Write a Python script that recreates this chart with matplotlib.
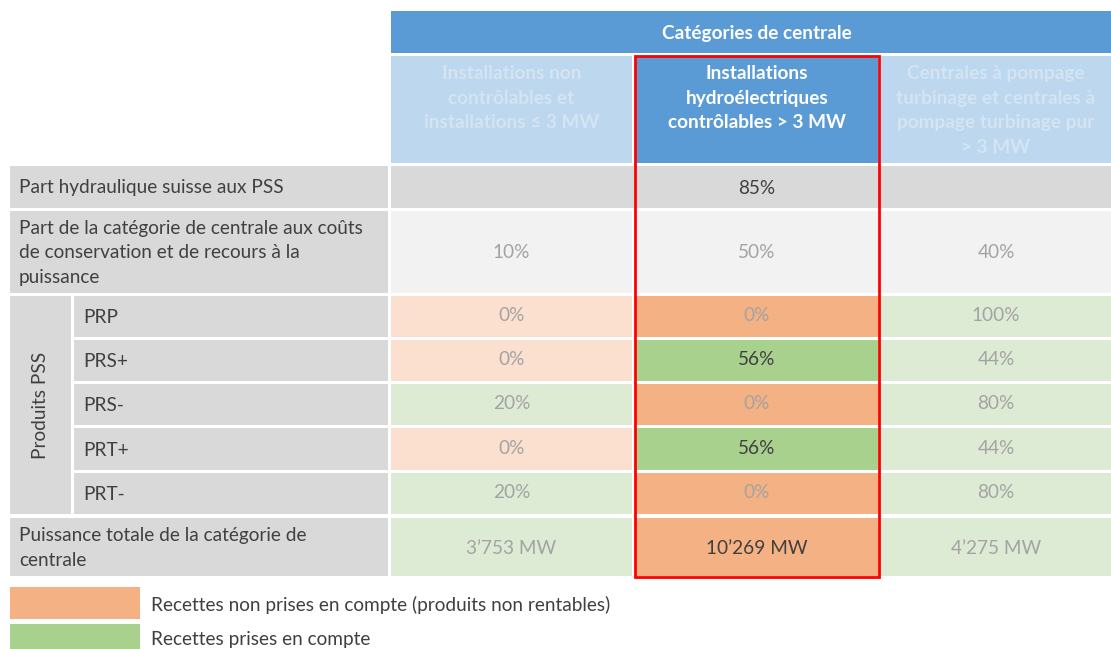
import matplotlib.pyplot as plt
from matplotlib.patches import Rectangle

plt.rcParams["font.family"] = ["Lato", "DejaVu Sans"]

# data
header = "Catégories de centrale"
categories = [
    "Installations non\ncontrôlables et\ninstallations ≤ 3 MW",
    "Installations\nhydroélectriques\ncontrôlables > 3 MW",
    "Centrales à pompage\nturbinage et centrales à\npompage turbinage pur\n> 3 MW",
]
row_share_label = "Part hydraulique suisse aux PSS"
hydro_share = 85
row_cost_label = "Part de la catégorie de centrale aux coûts\nde conservation et de recours à la\npuissance"
cost_share = [10, 50, 40]
group_label = "Produits PSS"
products = ["PRP", "PRS+", "PRS-", "PRT+", "PRT-"]
product_share = [
    [0, 0, 100],
    [0, 56, 44],
    [20, 0, 80],
    [0, 56, 44],
    [20, 0, 80],
]
# True = revenue counted (green), False = not counted (orange)
product_counted = [
    [False, False, True],
    [False, True, True],
    [True, False, True],
    [False, True, True],
    [True, False, True],
]
row_total_label = "Puissance totale de la catégorie de\ncentrale"
total_mw = [3753, 10269, 4275]
total_counted = [True, False, True]
legend_labels = ["Recettes non prises en compte (produits non rentables)",
                 "Recettes prises en compte"]
focus = 1

# styles
BLUE = "#5B9BD5"
LBLUE = "#BDD7EE"
GRAY = "#D9D9D9"
LGRAY = "#F2F2F2"
ORANGE = "#F4B183"
GREEN = "#A9D18E"
FORANGE = "#FBE0CF"
FGREEN = "#DEEBD4"
DARK = "#404040"
MUTED = "#A3A3A3"
FS = 13.7
LS = 1.55

fig = plt.figure(figsize=(11.11, 6.49), dpi=100)
ax = fig.add_axes([0, 0, 1, 1])
ax.set_xlim(0, 1111)
ax.set_ylim(649, 0)
ax.axis("off")

cols = [(391, 632), (636, 878), (881, 1111)]
prod_rows = [(296, 337), (340, 381), (384, 425), (428, 470), (473, 514)]


def cell(x0, x1, y0, y1, color):
    ax.add_patch(Rectangle((x0, y0), x1 - x0, y1 - y0, facecolor=color, edgecolor="none"))


# header
cell(391, 1111, 11, 53, BLUE)
ax.text(757, 34, header, ha="center", va="center", color="white",
        fontsize=FS, fontweight="bold")
for i, ((x0, x1), name) in enumerate(zip(cols, categories)):
    cell(x0, x1, 56, 163, BLUE if i == focus else LBLUE)
    ax.text((x0 + x1) / 2, 65, name, ha="center", va="top", linespacing=LS,
            color="white" if i == focus else "#D3E4F3", fontsize=FS, fontweight="bold")

# row: hydro share
cell(10, 388, 166, 208, GRAY)
ax.text(19, 188, row_share_label, ha="left", va="center", color=DARK, fontsize=FS)
cell(391, 1111, 166, 208, GRAY)
ax.text(757, 188, f"{hydro_share}%", ha="center", va="center", color=DARK, fontsize=FS)

# row: cost share
cell(10, 388, 211, 293, GRAY)
ax.text(19, 253, row_cost_label, ha="left", va="center", color=DARK,
        fontsize=FS, linespacing=LS)
for (x0, x1), v in zip(cols, cost_share):
    cell(x0, x1, 211, 293, LGRAY)
    ax.text((x0 + x1) / 2, 253, f"{v}%", ha="center", va="center", color=MUTED, fontsize=FS)

# products
cell(10, 71, 296, 514, GRAY)
ax.text(41, 405, group_label, ha="center", va="center", rotation=90,
        color=DARK, fontsize=FS)
for (y0, y1), name, vals, flags in zip(prod_rows, products, product_share, product_counted):
    cell(74, 388, y0, y1, GRAY)
    ax.text(83, (y0 + y1) / 2 + 1, name, ha="left", va="center", color=DARK, fontsize=FS)
    for i, ((x0, x1), v, ok) in enumerate(zip(cols, vals, flags)):
        if i == focus:
            color = GREEN if ok else ORANGE
            tcol = DARK if v > 0 else MUTED
        else:
            color = FGREEN if ok else FORANGE
            tcol = MUTED
        cell(x0, x1, y0, y1, color)
        ax.text((x0 + x1) / 2, (y0 + y1) / 2 - 1, f"{v}%", ha="center", va="center",
                color=tcol, fontsize=FS)

# total
cell(10, 388, 518, 576, GRAY)
ax.text(19, 548, row_total_label, ha="left", va="center", color=DARK,
        fontsize=FS, linespacing=LS)
for i, ((x0, x1), v, ok) in enumerate(zip(cols, total_mw, total_counted)):
    if i == focus:
        color = GREEN if ok else ORANGE
        tcol = DARK
    else:
        color = FGREEN if ok else FORANGE
        tcol = MUTED
    cell(x0, x1, 518, 576, color)
    ax.text((x0 + x1) / 2, 548, f"{v:,} MW".replace(",", "\u2019"), ha="center",
            va="center", color=tcol, fontsize=FS)

# focus frame
ax.add_patch(Rectangle((634.5, 55.5), 244, 521, facecolor="none",
                       edgecolor="#FF0000", linewidth=2))

# legend
cell(10, 140, 587, 619, ORANGE)
cell(10, 140, 624, 649, GREEN)
ax.text(151, 605, legend_labels[0], ha="left", va="center", color=DARK, fontsize=FS)
ax.text(151, 639, legend_labels[1], ha="left", va="center", color=DARK, fontsize=FS)

fig.savefig("out.png", dpi=100)
